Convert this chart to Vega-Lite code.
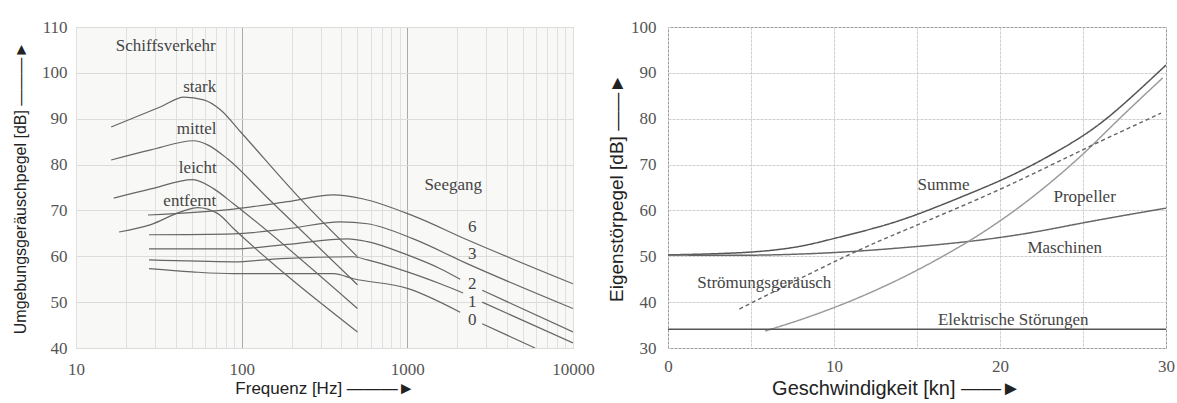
{
  "$schema": "https://vega.github.io/schema/vega-lite/v6.json",
  "background": "white",
  "padding": {"left": 12, "top": 17, "right": 4, "bottom": 4},
  "spacing": 95,
  "bounds": "flush",
  "config": {
    "axis": {"domain": false, "ticks": false, "labelFont": "Liberation Serif", "labelFontSize": 17, "labelColor": "#555", "titleFont": "Liberation Sans", "titleFontWeight": "normal", "titleColor": "#222"},
    "view": {"stroke": "#888"}
  },
  "datasets": {
    "left_lines": [
      {"s": "stark", "f": 16.3, "db": 88.2}, {"s": "stark", "f": 32.5, "db": 92.6}, {"s": "stark", "f": 44.8, "db": 94.7}, {"s": "stark", "f": 59, "db": 94.1}, {"s": "stark", "f": 74.7, "db": 91.9}, {"s": "stark", "f": 98.6, "db": 87.1}, {"s": "stark", "f": 226, "db": 72.5}, {"s": "stark", "f": 500, "db": 59.9},
      {"s": "mittel", "f": 16.3, "db": 81.0}, {"s": "mittel", "f": 28.3, "db": 83.2}, {"s": "mittel", "f": 51.4, "db": 85.2}, {"s": "mittel", "f": 62.3, "db": 84.3}, {"s": "mittel", "f": 82.4, "db": 81.2}, {"s": "mittel", "f": 143.5, "db": 72.7}, {"s": "mittel", "f": 500, "db": 53.8},
      {"s": "leicht", "f": 16.9, "db": 72.7}, {"s": "leicht", "f": 28.3, "db": 74.7}, {"s": "leicht", "f": 50.7, "db": 76.7}, {"s": "leicht", "f": 68, "db": 74.7}, {"s": "leicht", "f": 89.6, "db": 71.4}, {"s": "leicht", "f": 500, "db": 48.6},
      {"s": "entfernt", "f": 18.2, "db": 65.3}, {"s": "entfernt", "f": 28.3, "db": 66.9}, {"s": "entfernt", "f": 42.9, "db": 69.7}, {"s": "entfernt", "f": 54.3, "db": 70.6}, {"s": "entfernt", "f": 71.8, "db": 69.3}, {"s": "entfernt", "f": 89.6, "db": 66.0}, {"s": "entfernt", "f": 500, "db": 43.5},
      {"s": "s6", "f": 27.2, "db": 69.0}, {"s": "s6", "f": 89.6, "db": 70.3}, {"s": "s6", "f": 189, "db": 71.9}, {"s": "s6", "f": 358, "db": 73.4}, {"s": "s6", "f": 543, "db": 72.5}, {"s": "s6", "f": 1087, "db": 68.8}, {"s": "s6", "f": 2296, "db": 63.6}, {"s": "s6", "f": 10000, "db": 54.0},
      {"s": "s3", "f": 27.6, "db": 64.7}, {"s": "s3", "f": 89.6, "db": 64.9}, {"s": "s3", "f": 189, "db": 66.0}, {"s": "s3", "f": 394, "db": 67.5}, {"s": "s3", "f": 574, "db": 67.1}, {"s": "s3", "f": 1087, "db": 63.8}, {"s": "s3", "f": 2296, "db": 58.4}, {"s": "s3", "f": 10000, "db": 48.6},
      {"s": "s2a", "f": 27.6, "db": 61.6}, {"s": "s2a", "f": 89.6, "db": 61.6}, {"s": "s2a", "f": 189, "db": 62.6}, {"s": "s2a", "f": 435, "db": 63.8}, {"s": "s2a", "f": 574, "db": 63.2}, {"s": "s2a", "f": 1000, "db": 60.3}, {"s": "s2a", "f": 1581, "db": 57.3}, {"s": "s2a", "f": 2085, "db": 55.0},
      {"s": "s2b", "f": 2830, "db": 52.6}, {"s": "s2b", "f": 10000, "db": 43.5},
      {"s": "s1a", "f": 27.6, "db": 59.2}, {"s": "s1a", "f": 89.6, "db": 58.8}, {"s": "s1a", "f": 172, "db": 59.5}, {"s": "s1a", "f": 473, "db": 59.9}, {"s": "s1a", "f": 574, "db": 59.2}, {"s": "s1a", "f": 1000, "db": 56.6}, {"s": "s1a", "f": 1581, "db": 54.0}, {"s": "s1a", "f": 2170, "db": 52.0},
      {"s": "s1b", "f": 2830, "db": 50.0}, {"s": "s1b", "f": 10000, "db": 41.1},
      {"s": "s0a", "f": 27.6, "db": 57.3}, {"s": "s0a", "f": 50, "db": 56.6}, {"s": "s0a", "f": 89.6, "db": 56.2}, {"s": "s0a", "f": 358, "db": 56.2}, {"s": "s0a", "f": 473, "db": 55.1}, {"s": "s0a", "f": 1000, "db": 53.0}, {"s": "s0a", "f": 2085, "db": 47.8},
      {"s": "s0b", "f": 2830, "db": 45.3}, {"s": "s0b", "f": 5900, "db": 40.0}
    ],
    "left_labels": [
      {"t": "Schiffsverkehr", "f": 34.8, "db": 105.9},
      {"t": "stark", "f": 55.8, "db": 96.9},
      {"t": "mittel", "f": 53.5, "db": 87.8},
      {"t": "leicht", "f": 54.3, "db": 79.3},
      {"t": "entfernt", "f": 48.6, "db": 72.1},
      {"t": "Seegang", "f": 1892, "db": 75.6},
      {"t": "6", "f": 2466, "db": 66.4},
      {"t": "3", "f": 2466, "db": 60.5},
      {"t": "2", "f": 2466, "db": 54.0},
      {"t": "1", "f": 2466, "db": 50.1},
      {"t": "0", "f": 2466, "db": 46.0}
    ],
    "right_lines": [
      {"s": "Summe", "kn": 0, "db": 50.3}, {"s": "Summe", "kn": 5, "db": 50.7}, {"s": "Summe", "kn": 8, "db": 52.0}, {"s": "Summe", "kn": 10, "db": 53.9}, {"s": "Summe", "kn": 12.8, "db": 56.4}, {"s": "Summe", "kn": 15, "db": 59.0}, {"s": "Summe", "kn": 18.4, "db": 64.0}, {"s": "Summe", "kn": 20.1, "db": 66.6}, {"s": "Summe", "kn": 22, "db": 69.9}, {"s": "Summe", "kn": 24.9, "db": 75.8}, {"s": "Summe", "kn": 26.9, "db": 81.2}, {"s": "Summe", "kn": 30, "db": 91.7},
      {"s": "Maschinen", "kn": 0, "db": 50.3}, {"s": "Maschinen", "kn": 5, "db": 50.1}, {"s": "Maschinen", "kn": 10, "db": 50.7}, {"s": "Maschinen", "kn": 14, "db": 51.8}, {"s": "Maschinen", "kn": 18.1, "db": 53.1}, {"s": "Maschinen", "kn": 22, "db": 55.1}, {"s": "Maschinen", "kn": 24.9, "db": 57.3}, {"s": "Maschinen", "kn": 30, "db": 60.5},
      {"s": "Propeller", "kn": 5.85, "db": 33.7}, {"s": "Propeller", "kn": 8.6, "db": 36.8}, {"s": "Propeller", "kn": 12, "db": 41.6}, {"s": "Propeller", "kn": 15.1, "db": 47.0}, {"s": "Propeller", "kn": 18.1, "db": 53.1}, {"s": "Propeller", "kn": 20.1, "db": 57.9}, {"s": "Propeller", "kn": 22, "db": 62.9}, {"s": "Propeller", "kn": 24.9, "db": 71.7}, {"s": "Propeller", "kn": 26.9, "db": 79.1}, {"s": "Propeller", "kn": 29.8, "db": 88.9},
      {"s": "Strömung", "kn": 4.3, "db": 38.5}, {"s": "Strömung", "kn": 11, "db": 50.7}, {"s": "Strömung", "kn": 14, "db": 55.3}, {"s": "Strömung", "kn": 20.1, "db": 64.5}, {"s": "Strömung", "kn": 24.9, "db": 73.2}, {"s": "Strömung", "kn": 29.7, "db": 81.2},
      {"s": "Elektrisch", "kn": 0, "db": 34.1}, {"s": "Elektrisch", "kn": 30, "db": 34.1}
    ],
    "right_labels": [
      {"t": "Summe", "kn": 16.6, "db": 65.5},
      {"t": "Propeller", "kn": 25.1, "db": 62.9},
      {"t": "Maschinen", "kn": 23.9, "db": 51.8},
      {"t": "Strömungsgeräusch", "kn": 5.8, "db": 44.2},
      {"t": "Elektrische Störungen", "kn": 20.8, "db": 36.1}
    ]
  },
  "hconcat": [
    {
      "width": 497,
      "height": 321,
      "view": {"fill": "#f8f8f7", "stroke": "#999"},
      "encoding": {
        "x": {"field": "f", "type": "quantitative", "scale": {"type": "log", "domain": [10, 10000]},
          "axis": {"values": [10, 20, 30, 40, 50, 60, 70, 80, 90, 100, 200, 300, 400, 500, 600, 700, 800, 900, 1000, 2000, 3000, 4000, 5000, 6000, 7000, 8000, 9000, 10000],
            "labelExpr": "indexof([10, 100, 1000, 10000], datum.value) >= 0 ? format(datum.value, 'd') : ''",
            "labelOverlap": false, "labelFlush": false, "labelPadding": 13,
            "grid": true, "gridColor": {"condition": {"test": "indexof([100, 1000], datum.value) >= 0", "value": "#aaa"}, "value": "#e0e0e0"},
            "title": "Frequenz [Hz]  ———►", "titleFontSize": 17, "titlePadding": 3}},
        "y": {"field": "db", "type": "quantitative", "scale": {"domain": [40, 110]},
          "axis": {"values": [40, 50, 60, 70, 80, 90, 100, 110], "grid": true, "gridColor": "#dcdcdc", "labelPadding": 9,
            "title": "Umgebungsgeräuschpegel [dB]   ———►", "titleFontSize": 16, "titlePadding": 13}}
      },
      "layer": [
        {
          "data": {"name": "left_lines"},
          "mark": {"type": "line", "color": "#666", "strokeWidth": 1.2, "interpolate": "monotone", "clip": true},
          "encoding": {"detail": {"field": "s", "type": "nominal"}}
        },
        {
          "data": {"name": "left_labels"},
          "mark": {"type": "text", "font": "Liberation Serif", "fontSize": 17, "color": "#444", "align": "center", "baseline": "middle"},
          "encoding": {"text": {"field": "t", "type": "nominal"}}
        }
      ]
    },
    {
      "width": 498,
      "height": 321,
      "view": {"fill": "white", "stroke": "#666"},
      "encoding": {
        "x": {"field": "kn", "type": "quantitative", "scale": {"domain": [0, 30]},
          "axis": {"values": [0, 5, 10, 15, 20, 25, 30], "labelExpr": "datum.value % 10 == 0 ? datum.label : ''",
            "labelOverlap": false, "labelFlush": false, "labelPadding": 10,
            "grid": true, "gridColor": "#cfcfcf", "gridDash": [3, 1],
            "title": "Geschwindigkeit [kn]  ——►", "titleFontSize": 20, "titlePadding": 4, "titleX": 228}},
        "y": {"field": "db", "type": "quantitative", "scale": {"domain": [30, 100]},
          "axis": {"values": [30, 40, 50, 60, 70, 80, 90, 100], "grid": true, "gridColor": "#cfcfcf", "gridDash": [3, 1], "labelPadding": 12,
            "title": "Eigenstörpegel [dB]  ——►", "titleFontSize": 19, "titlePadding": 4}}
      },
      "layer": [
        {
          "data": {"name": "right_lines"},
          "mark": {"type": "line", "interpolate": "basis", "clip": true},
          "encoding": {
            "detail": {"field": "s", "type": "nominal"},
            "color": {"field": "s", "type": "nominal", "legend": null,
              "scale": {"domain": ["Summe", "Maschinen", "Propeller", "Strömung", "Elektrisch"], "range": ["#555", "#666", "#999", "#666", "#555"]}},
            "strokeDash": {"field": "s", "type": "nominal", "legend": null,
              "scale": {"domain": ["Summe", "Maschinen", "Propeller", "Strömung", "Elektrisch"], "range": [[1, 0], [1, 0], [1, 0], [4, 3], [1, 0]]}},
            "strokeWidth": {"field": "s", "type": "nominal", "legend": null,
              "scale": {"domain": ["Summe", "Maschinen", "Propeller", "Strömung", "Elektrisch"], "range": [1.5, 1.4, 1.1, 1.2, 1.4]}}
          }
        },
        {
          "data": {"name": "right_labels"},
          "mark": {"type": "text", "font": "Liberation Serif", "fontSize": 17, "color": "#444", "align": "center", "baseline": "middle"},
          "encoding": {"text": {"field": "t", "type": "nominal"}}
        }
      ]
    }
  ]
}
